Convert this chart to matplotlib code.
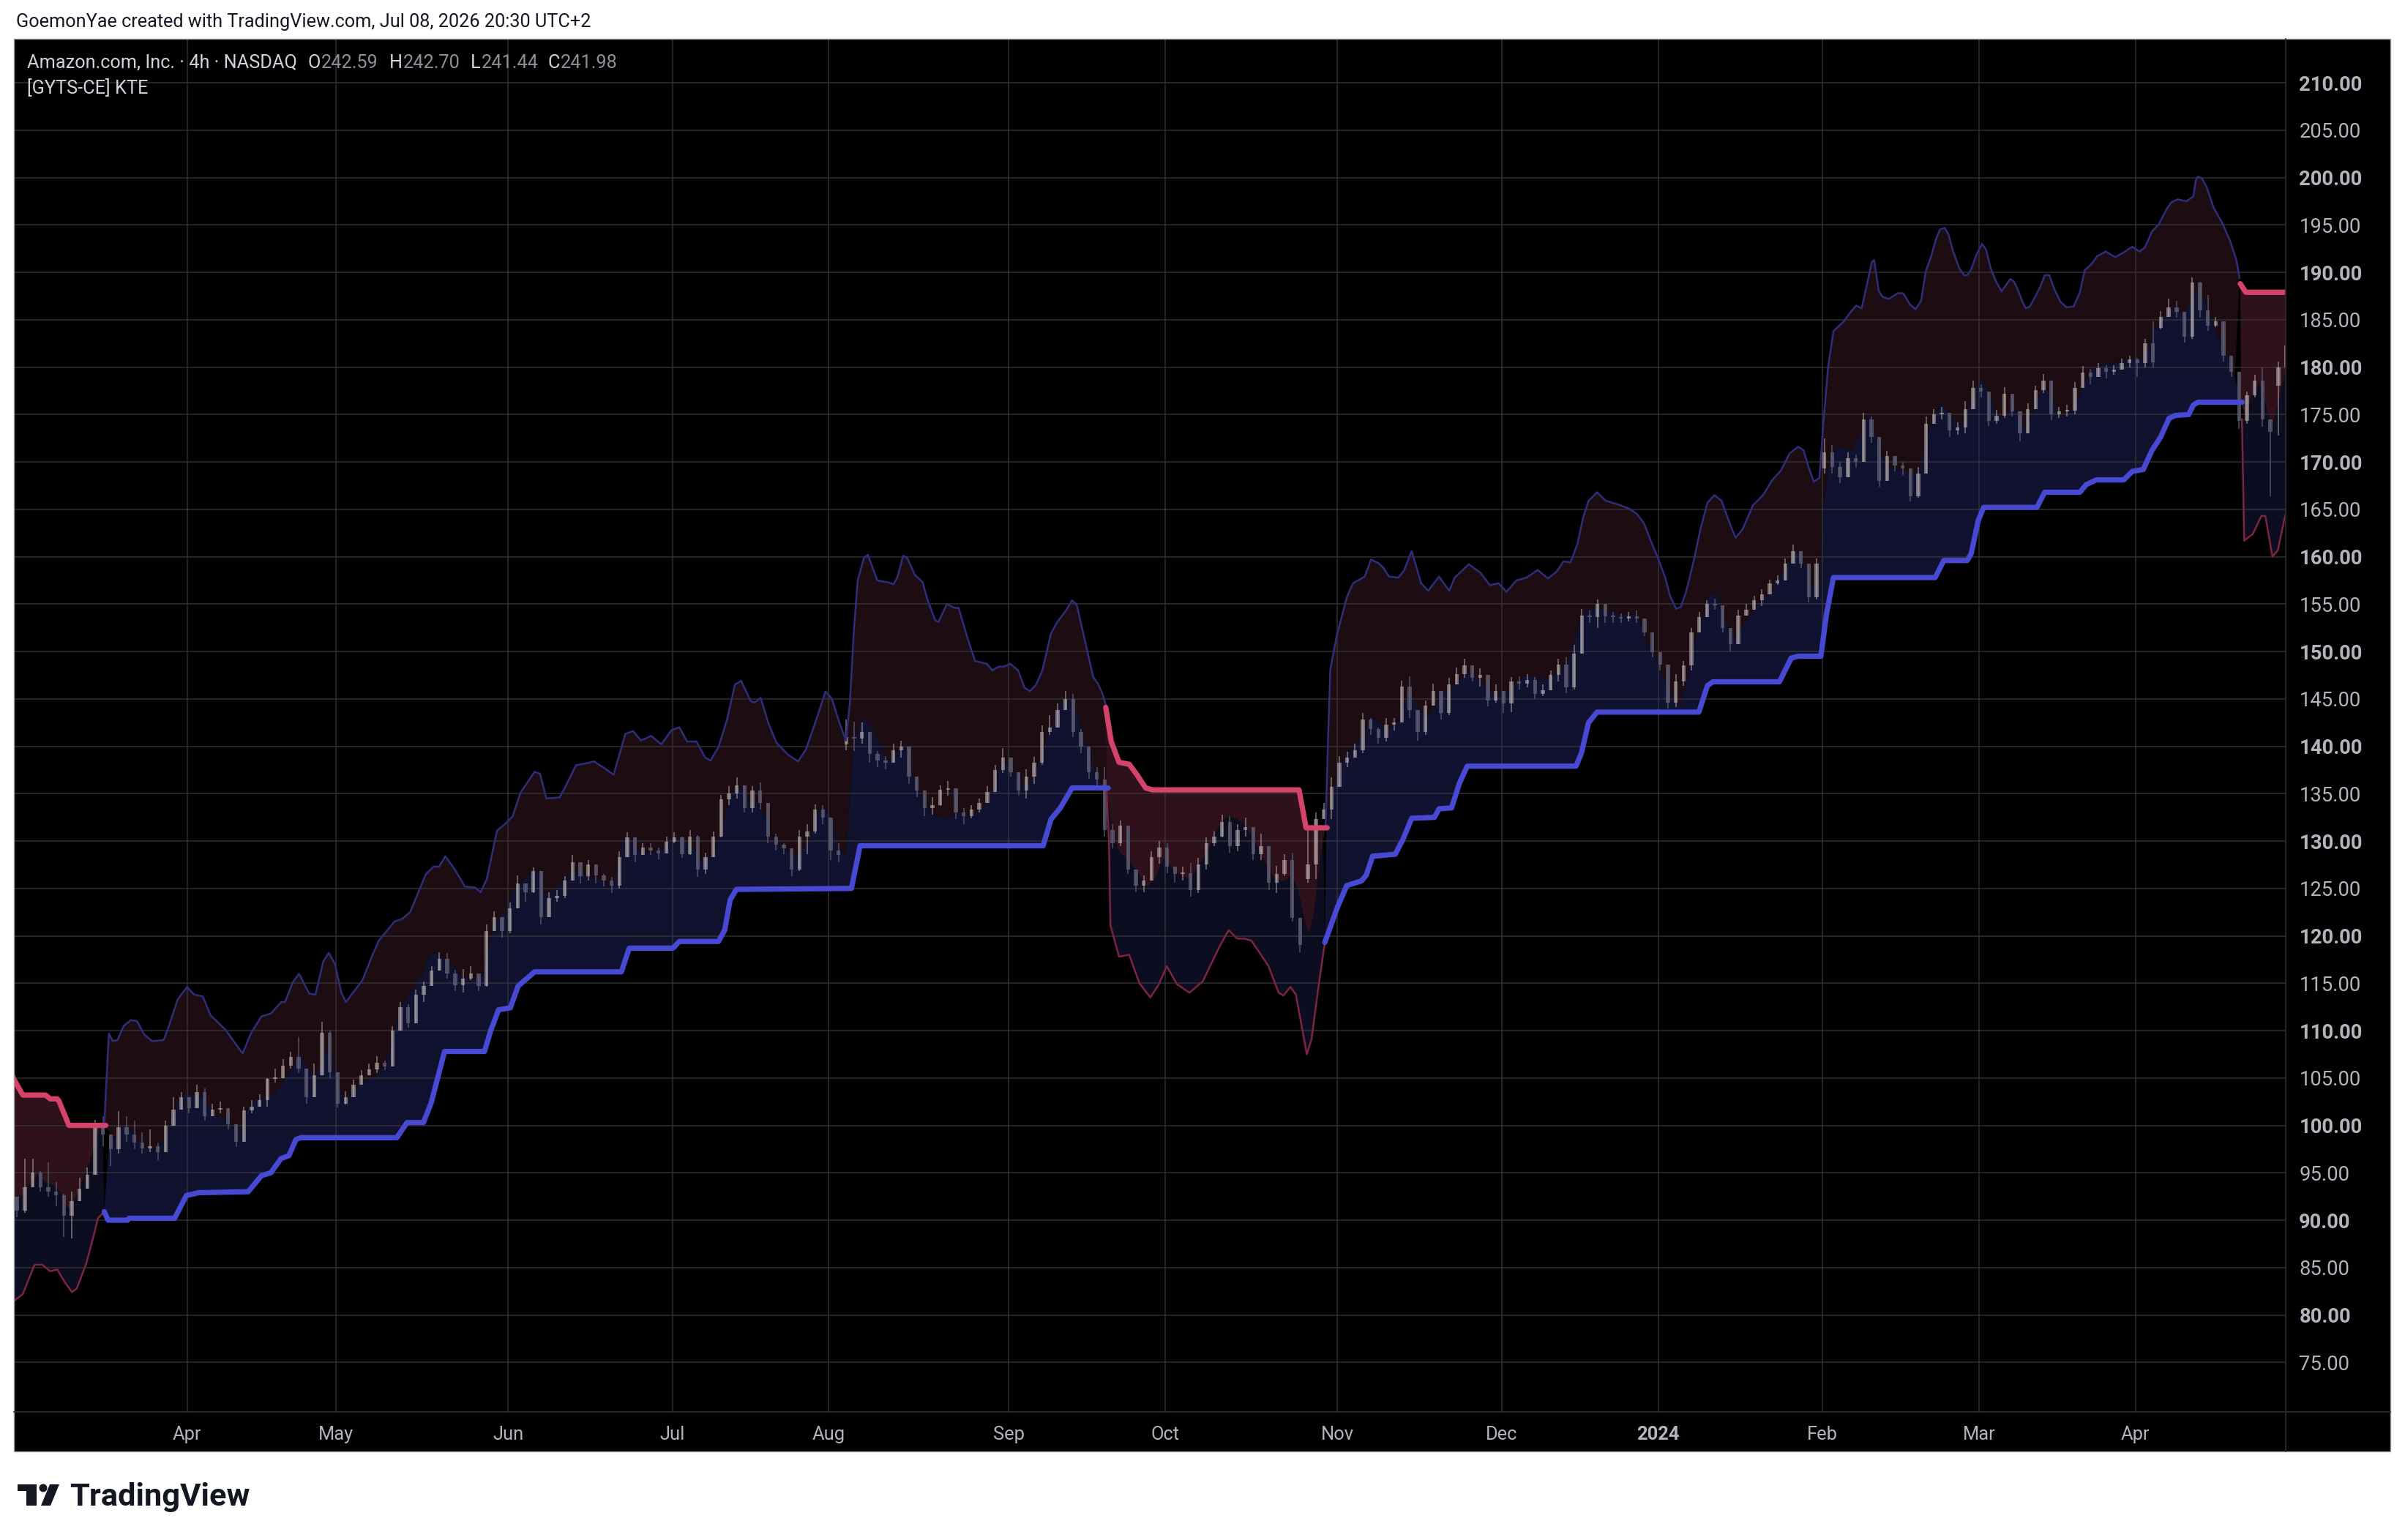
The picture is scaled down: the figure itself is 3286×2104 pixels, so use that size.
import numpy as np
import pandas as pd
import matplotlib
matplotlib.use('Agg')
import matplotlib.pyplot as plt
from matplotlib.patches import Rectangle, Polygon, Circle

plt.rcParams['font.family'] = ['Roboto', 'DejaVu Sans']

# ---------------- data: x = trading-day index, 0 = 2023-03-01 ----------------
HOLIDAYS = ['2023-04-07', '2023-05-29', '2023-06-19', '2023-07-04', '2023-09-04',
            '2023-11-23', '2023-12-25', '2024-01-01', '2024-01-15', '2024-02-19',
            '2024-03-29']

CLOSE = [92.5, 91.0, 93.5, 95.0, 93.5, 93.0, 92.6, 90.5, 92.0, 93.3,
         94.8, 99.8, 99.0, 97.5, 99.8, 99.0, 98.2, 97.6, 97.8, 97.2,
         100.0, 101.7, 103.0, 101.8, 103.5, 101.0, 101.7, 101.8, 100.1, 98.3,
         101.6, 102.0, 102.7, 104.9, 105.0, 106.3, 107.2, 106.0, 103.0, 105.3,
         109.8, 105.6, 102.3, 103.0, 104.3, 105.3, 105.9, 106.6, 106.2, 110.0,
         112.5, 110.8, 113.8, 114.7, 116.3, 117.6, 116.0, 114.8, 115.5, 116.0,
         114.7, 120.5, 122.0, 120.5, 122.9, 125.5, 124.6, 126.8, 122.0, 124.0,
         124.2, 125.8, 127.8, 126.3, 127.5, 126.4, 125.8, 125.3, 128.3, 130.4,
         128.5, 129.3, 129.0, 128.7, 129.9, 130.4, 128.6, 130.5, 127.0, 128.3,
         130.5, 134.4, 135.0, 135.9, 133.5, 135.3, 134.0, 130.5, 129.6, 129.2,
         127.0, 130.5, 131.0, 133.3, 132.5, 129.0, 128.5, 141.0, 140.8, 141.5,
         139.2, 138.5, 138.3, 139.6, 140.0, 136.8, 135.3, 133.5, 133.8, 135.4,
         135.6, 133.0, 132.6, 133.3, 134.0, 135.2, 137.5, 138.8, 137.3, 135.3,
         136.8, 138.3, 141.5, 142.0, 143.8, 145.0, 141.5, 140.0, 137.3, 136.5,
         131.2, 129.8, 131.6, 127.0, 125.3, 125.8, 128.3, 129.3, 127.3, 126.5,
         126.6, 124.8, 127.5, 129.8, 130.5, 132.0, 129.5, 131.2, 131.5, 128.6,
         129.5, 125.6, 126.5, 128.0, 121.9, 119.0, 127.5, 132.3, 133.3, 135.7,
         138.3, 138.8, 139.6, 142.8, 141.8, 140.9, 142.3, 142.5, 146.3, 143.8,
         141.5, 144.3, 145.8, 143.5, 146.5, 147.6, 148.5, 147.2, 147.5, 144.8,
         145.8, 144.5, 146.8, 146.6, 147.0, 145.5, 145.9, 147.5, 148.6, 146.2,
         149.8, 153.8, 153.6, 155.0, 153.7, 153.6, 153.5, 153.7, 153.5, 152.0,
         149.9, 148.6, 144.6, 146.8, 148.5, 152.0, 153.6, 155.0, 154.9, 152.5,
         150.8, 153.8, 154.4, 155.4, 156.0, 157.2, 157.5, 159.3, 160.6, 159.3,
         155.7, 159.3, 171.0, 169.5, 168.4, 170.4, 170.0, 174.5, 172.6, 168.0,
         170.6, 169.6, 169.3, 166.4, 168.8, 174.0, 175.0, 175.2, 173.3, 173.6,
         175.6, 177.8, 177.4, 174.3, 174.9, 177.2, 175.3, 173.0, 175.6, 177.6,
         178.6, 175.0, 175.3, 175.4, 177.8, 179.4, 179.0, 179.9, 179.5, 179.7,
         180.4, 180.8, 180.4, 182.5, 180.5, 185.3, 186.3, 185.8, 183.2, 188.9,
         186.0, 184.4, 184.8, 181.2, 179.5, 174.3, 177.0, 178.6, 174.5, 173.2,
         180.0, 182.3]

HIGH = [94.5, 92.5, 96.5, 96.5, 95.2, 96.1, 94.0, 92.8, 93.0, 94.5,
        95.6, 100.6, 101.0, 98.8, 101.5, 101.0, 100.5, 99.3, 99.6, 98.2,
        100.5, 103.0, 103.5, 102.6, 104.3, 103.9, 102.3, 102.5, 100.9, 99.6,
        102.0, 102.7, 103.3, 105.0, 106.0, 107.0, 107.8, 109.3, 104.5, 106.5,
        110.9, 110.0, 105.1, 103.6, 104.8, 105.8, 106.5, 107.3, 106.8, 110.5,
        113.0, 112.8, 114.3, 115.2, 116.8, 118.3, 118.2, 116.4, 116.5, 116.8,
        115.5, 121.2, 122.6, 121.6, 123.5, 126.4, 125.3, 127.2, 124.5, 124.6,
        124.8, 126.3, 128.5, 127.5, 128.0, 127.5, 126.5, 126.2, 128.9, 130.9,
        130.0, 129.8, 129.8, 129.3, 130.5, 130.9, 130.5, 131.2, 130.6, 128.8,
        131.0, 134.9, 135.8, 136.7, 135.7, 135.8, 136.2, 134.0, 130.8, 129.8,
        129.0, 131.2, 131.8, 133.9, 133.8, 132.4, 129.8, 142.8, 142.6, 142.5,
        141.5, 139.5, 139.0, 140.3, 140.6, 139.0, 136.6, 135.0, 134.6, 135.9,
        136.3, 135.2, 133.5, 133.8, 134.5, 135.8, 138.0, 139.8, 138.4, 137.0,
        137.6, 138.9, 142.2, 143.3, 144.5, 145.8, 145.5, 141.8, 140.0, 137.8,
        137.8, 131.8, 132.2, 130.2, 126.8, 126.4, 128.9, 130.0, 129.8, 127.3,
        127.3, 127.7, 128.2, 130.4, 131.0, 132.8, 132.6, 131.8, 132.5, 131.0,
        130.8, 128.3, 127.4, 128.6, 128.8, 121.8, 131.2, 133.0, 134.0, 136.7,
        139.0, 139.4, 140.3, 143.5, 143.0, 142.0, 143.0, 143.0, 146.9, 147.4,
        143.8, 144.8, 146.6, 145.8, 147.2, 148.3, 149.2, 148.0, 148.2, 146.4,
        146.5, 145.5, 147.3, 147.4, 147.6, 147.3, 146.5, 148.0, 149.2, 149.4,
        150.7, 154.5, 154.3, 155.5, 154.5, 154.2, 154.0, 154.2, 154.3, 153.4,
        151.8, 149.8, 146.0, 147.6, 149.0, 152.5, 154.2, 155.4, 155.6, 154.2,
        152.0, 154.4, 155.0, 155.9, 156.6, 157.6, 158.0, 159.8, 161.3, 160.5,
        157.3, 159.8, 172.5, 171.8, 170.0, 171.0, 170.8, 175.2, 174.8, 169.6,
        171.2, 170.5, 170.0, 168.2, 169.5, 174.8, 175.6, 175.8, 174.3, 174.2,
        176.4, 178.6, 178.2, 177.0, 175.5, 177.9, 177.0, 175.0, 176.2, 178.0,
        179.3, 176.8, 175.8, 176.0, 178.4, 180.1, 179.8, 180.4, 180.2, 180.2,
        180.9, 181.2, 181.0, 183.0, 184.8, 185.9, 187.2, 187.0, 185.8, 189.5,
        189.0, 187.6, 185.3, 184.5, 181.0, 178.9, 177.4, 179.2, 180.0, 174.0,
        180.6, 183.5]

LOW = [91.0, 90.3, 90.8, 93.8, 93.0, 92.5, 91.5, 88.2, 88.1, 92.3,
       93.3, 95.5, 97.8, 95.7, 97.0, 98.3, 97.5, 97.0, 97.2, 96.3,
       98.3, 101.0, 102.0, 101.3, 102.5, 100.5, 101.0, 101.3, 99.6, 97.7,
       98.8, 101.3, 102.3, 102.0, 104.5, 105.0, 106.0, 105.5, 102.3, 104.5,
       105.5, 105.0, 101.9, 102.2, 103.4, 104.5, 105.3, 105.5, 105.8, 107.8,
       110.0, 110.3, 110.8, 113.0, 115.0, 116.3, 115.5, 114.2, 114.0, 115.3,
       114.2, 114.6, 120.5, 119.8, 120.3, 123.3, 123.6, 124.5, 121.2, 122.0,
       123.6, 124.0, 125.8, 125.5, 125.8, 125.5, 125.2, 124.5, 125.0, 128.6,
       127.8, 128.7, 128.5, 128.1, 129.0, 129.8, 128.2, 128.5, 126.2, 126.5,
       128.3, 130.4, 133.8, 134.5, 133.0, 133.0, 133.3, 129.8, 129.0, 128.6,
       126.3, 126.8, 128.6, 130.8, 131.8, 128.0, 127.8, 139.6, 139.5, 140.3,
       138.3, 137.8, 137.6, 138.5, 138.8, 136.0, 134.6, 132.6, 132.8, 133.7,
       134.8, 132.3, 131.8, 132.4, 133.0, 134.0, 135.3, 137.2, 136.8, 134.8,
       134.5, 136.0, 138.0, 141.2, 142.2, 144.2, 141.0, 139.3, 136.6, 135.6,
       130.5, 129.2, 129.5, 126.5, 124.6, 124.6, 126.0, 127.6, 126.6, 125.6,
       125.8, 124.1, 124.5, 127.0, 129.5, 130.4, 128.8, 128.9, 130.5, 128.0,
       128.0, 124.8, 124.5, 126.3, 121.5, 118.3, 125.6, 126.0, 132.5, 132.3,
       136.0, 137.8, 138.8, 139.3, 141.2, 140.3, 140.5, 141.7, 142.5, 143.0,
       140.6, 141.2, 145.0, 142.8, 143.3, 146.6, 147.2, 146.8, 146.3, 144.2,
       144.6, 143.5, 143.6, 146.0, 146.2, 145.0, 145.3, 146.6, 146.8, 145.6,
       146.0, 150.1, 153.0, 152.5, 153.0, 153.0, 153.0, 153.2, 153.0, 151.6,
       149.4, 148.0, 144.0, 144.1, 146.4, 148.0, 153.0, 154.4, 154.4, 152.0,
       150.0, 151.8, 153.9, 154.8, 154.8, 156.4, 157.0, 157.6, 159.6, 158.8,
       155.2, 155.5, 168.8, 168.8, 167.8, 169.6, 169.4, 170.5, 172.0, 167.4,
       168.0, 169.0, 168.6, 165.8, 166.2, 168.8, 174.2, 174.5, 172.6, 172.9,
       173.0, 176.3, 176.8, 173.8, 174.0, 174.6, 174.8, 172.2, 174.5, 175.8,
       177.3, 174.4, 174.6, 174.8, 175.0, 178.6, 178.2, 179.2, 178.8, 179.2,
       179.9, 180.0, 179.0, 180.0, 180.0, 184.0, 185.3, 185.2, 182.6, 183.0,
       185.2, 183.8, 184.2, 180.6, 179.0, 173.5, 174.0, 176.8, 173.7, 166.4,
       172.8, 180.5]

FIRST_OPEN = 92.0
GAP_OPEN = {107: 140.2, 166: 126.0, 232: 169.3, 275: 184.1, 290: 178.0}

# smoothed centre line of the indicator (boundary between the two fills)
MID = [(0, 90.5), (0.9, 91.6), (2.2, 93.0), (3.3, 94.2), (3.9, 94.8), (4.9, 94.0), (6.0, 93.6),
       (6.8, 93.0), (7.4, 91.5), (8.1, 91.2), (8.7, 92.3), (9.5, 93.9), (10.4, 95.7), (11.2, 98.0),
       (11.8, 99.6), (12.2, 100.1), (13.1, 99.2), (13.7, 98.5), (14.3, 99.4), (15.2, 100.1),
       (16.2, 99.2), (17.0, 98.0), (18.3, 97.5), (19.3, 97.4), (20.0, 98.4), (20.8, 100.3),
       (21.8, 102.5), (22.9, 103.4), (24.2, 103.2), (25.2, 102.8), (26.6, 101.1), (27.9, 100.6),
       (29.1, 99.6), (30.0, 99.9), (30.8, 101.9), (31.8, 102.9), (32.9, 102.7), (34.2, 103.4),
       (35.4, 104.7), (36.7, 106.5), (37.5, 107.3), (38.3, 106.5), (39.2, 105.0), (40.0, 106.3),
       (40.8, 108.1), (41.7, 106.5), (42.5, 103.9), (43.1, 102.6), (43.8, 103.1), (44.6, 104.1),
       (45.9, 104.7), (47.1, 105.2), (48.2, 106.2), (49.2, 108.6), (50.0, 111.9), (51.3, 113.7),
       (53.0, 115.8), (54.2, 118.3), (55.2, 118.0), (56.7, 117.1), (58.2, 115.6), (59.8, 115.4),
       (60.8, 115.8), (61.5, 118.9), (62.3, 121.5), (63.6, 122.4), (64.8, 124.9), (66.3, 126.2),
       (67.6, 127.1), (68.9, 124.2), (69.9, 124.9), (71.4, 126.2), (72.7, 126.9), (74.0, 126.4),
       (75.5, 126.0), (77.0, 125.3), (77.8, 126.0), (78.5, 129.5), (79.5, 130.4), (80.6, 129.1),
       (81.6, 128.8), (83.1, 128.8), (84.6, 130.0), (85.9, 130.4), (87.4, 129.5), (88.7, 128.0),
       (90.2, 128.6), (90.9, 130.0), (91.7, 132.6), (92.7, 135.3), (93.7, 135.7), (94.8, 134.2),
       (95.8, 134.0), (96.8, 132.6), (97.8, 130.0), (99.3, 129.1), (100.8, 128.4), (102.4, 130.0),
       (103.6, 133.1), (104.6, 133.5), (105.4, 132.2), (106.2, 129.5), (107.2, 128.4), (107.7, 134.9),
       (108.2, 140.2), (109.0, 142.4), (109.5, 143.1), (110.5, 142.0), (111.5, 140.2), (112.5, 138.4),
       (113.5, 139.3), (114.5, 140.2), (115.3, 138.4), (116.3, 135.7), (117.6, 133.5), (118.6, 132.6),
       (120.1, 132.4), (121.6, 133.0), (123.1, 132.6), (124.7, 133.5), (125.9, 134.9), (127.2, 138.4),
       (128.2, 137.9), (129.2, 136.6), (130.2, 135.5), (131.3, 137.1), (132.5, 140.0), (133.8, 143.0),
       (134.8, 144.85), (135.9, 145.2), (136.7, 143.7), (137.5, 141.2), (138.4, 139.0), (139.2, 137.1),
       (140.0, 135.7), (140.5, 135.4), (141.3, 130.5), (142.2, 128.8), (143.4, 127.8), (144.7, 126.4),
       (145.7, 125.1), (146.8, 126.1), (147.8, 128.1), (148.9, 127.1), (150.1, 126.2), (151.3, 126.1),
       (152.6, 127.8), (153.9, 129.8), (155.1, 131.9), (156.1, 132.6), (157.2, 132.3), (158.2, 131.6),
       (159.3, 130.2), (160.5, 128.1), (161.8, 126.2), (163.0, 125.7), (164.1, 126.3), (164.9, 125.1),
       (165.8, 121.6), (166.4, 120.2), (167.0, 122.3), (167.6, 126.4), (168.2, 130.2), (168.6, 131.6),
       (169.7, 136.4), (170.7, 138.5), (171.8, 139.9), (173.1, 140.9), (174.3, 143.0), (175.3, 142.6),
       (176.4, 141.7), (177.7, 142.6), (178.7, 145.0), (179.5, 145.4), (180.4, 144.0), (181.2, 143.0),
       (182.2, 143.8), (183.3, 145.5), (184.3, 146.1), (185.4, 146.8), (186.4, 147.8), (187.7, 147.4),
       (188.9, 146.4), (190.2, 145.4), (191.4, 145.7), (192.7, 146.5), (193.9, 147.5), (195.8, 147.2),
       (197.1, 147.0), (198.5, 148.0), (199.6, 149.2), (200.5, 151.9), (201.2, 153.9), (202.5, 154.7),
       (203.8, 154.5), (205.2, 154.1), (206.5, 153.9), (207.9, 153.9), (208.8, 152.9), (209.7, 150.7),
       (210.6, 149.3), (211.5, 147.6), (212.4, 146.0), (213.0, 144.8), (213.7, 144.4), (214.6, 146.7),
       (215.5, 150.7), (216.4, 152.9), (217.3, 155.5), (218.2, 156.3), (219.1, 155.0), (220.0, 152.3),
       (220.9, 151.5), (221.8, 152.7), (222.9, 154.1), (224.2, 155.5), (225.6, 156.6), (226.9, 158.2),
       (228.0, 159.8), (228.9, 160.6), (229.8, 159.0), (230.7, 157.0), (231.6, 157.4), (232.0, 164.1),
       (232.7, 169.2), (233.6, 171.6), (234.7, 171.4), (235.8, 171.2), (237.0, 173.2), (237.9, 175.2),
       (238.5, 174.0), (239.2, 171.6), (240.1, 169.6), (241.2, 169.2), (242.3, 169.2), (243.5, 168.5),
       (244.6, 169.7), (245.5, 173.2), (246.4, 175.2), (247.3, 176.1), (248.2, 175.3), (248.8, 174.5),
       (249.6, 173.8), (250.4, 174.9), (251.4, 177.3), (252.4, 178.7), (253.2, 177.6), (254.0, 175.5),
       (254.8, 174.7), (255.6, 175.2), (256.3, 176.2), (257.1, 174.8), (257.9, 173.5), (258.7, 174.8),
       (259.4, 176.6), (260.4, 178.0), (261.2, 177.0), (262.0, 175.35), (262.7, 174.8), (263.5, 175.2),
       (264.4, 175.9), (265.4, 178.3), (266.3, 179.65), (267.6, 180.3), (268.8, 180.4), (270.1, 180.5),
       (271.3, 180.9), (272.5, 180.7), (273.5, 181.7), (274.4, 183.8), (275.3, 185.2), (276.3, 186.1),
       (277.2, 186.3), (278.1, 185.5), (279.1, 187.1), (280.0, 188.3), (280.9, 186.9), (281.9, 184.5),
       (282.8, 182.8), (283.8, 181.0), (284.7, 179.0), (285.5, 176.2), (286.1, 174.8), (286.9, 176.9),
       (287.7, 178.3), (288.3, 177.3), (288.9, 175.2), (289.5, 173.8), (290.3, 176.2), (291.1, 179.3),
       (292.0, 181.5)]

# trailing stop, one list per regime
STOP_D1 = [(0, 106.5), (0.9, 104.8), (2.0, 103.2), (4.9, 103.2), (5.5, 102.8), (6.4, 102.8),
           (6.6, 102.6), (7.9, 100.0), (12.6, 100.0)]
STOP_U1 = [(12.4, 90.9), (12.9, 90.0), (15.4, 90.0), (15.6, 90.2), (21.4, 90.2), (22.9, 92.6),
           (24.5, 92.9), (30.8, 93.0), (32.5, 94.7), (33.7, 95.0), (35.0, 96.5), (36.0, 96.8),
           (36.9, 98.5), (37.5, 98.7), (49.8, 98.7), (51.1, 100.3), (53.2, 100.3), (54.2, 102.4),
           (55.9, 107.8), (61.0, 107.8), (61.8, 110.0), (62.8, 112.2), (64.3, 112.4), (65.3, 114.7),
           (67.4, 116.2), (78.5, 116.2), (79.5, 118.7), (85.1, 118.7), (85.9, 119.4), (90.9, 119.4),
           (91.7, 120.6), (92.4, 123.8), (93.2, 124.9), (107.9, 125.0), (109.0, 129.5), (132.4, 129.5),
           (133.4, 132.3), (134.6, 133.5), (136.1, 135.6), (140.7, 135.6)]
STOP_D2 = [(140.4, 144.1), (141.1, 140.5), (142.1, 138.3), (143.4, 138.1), (144.3, 137.1),
           (145.5, 135.6), (146.4, 135.4), (165.1, 135.4), (166.0, 131.4), (168.7, 131.4)]
STOP_U2 = [(168.4, 119.3), (170.0, 123.0), (171.2, 125.3), (173.1, 125.8), (173.7, 126.4),
           (174.5, 128.4), (177.4, 128.6), (178.4, 130.2), (179.5, 132.4), (182.4, 132.5),
           (183.0, 133.4), (184.6, 133.5), (185.6, 136.1), (186.6, 137.9), (200.5, 137.9),
           (201.2, 139.3), (202.1, 142.5), (203.2, 143.6), (216.2, 143.6), (217.3, 146.4),
           (218.0, 146.8), (226.5, 146.8), (228.0, 149.3), (228.9, 149.5), (231.8, 149.5),
           (232.5, 153.9), (233.4, 157.8), (246.4, 157.8), (247.5, 159.6), (250.5, 159.6),
           (251.0, 160.3), (251.9, 163.8), (252.6, 165.2), (259.4, 165.2), (260.4, 166.8),
           (264.9, 166.8), (265.7, 167.6), (267.0, 168.1), (270.5, 168.1), (271.6, 169.0),
           (273.0, 169.2), (274.1, 171.2), (275.2, 172.6), (276.3, 174.6), (277.1, 174.9),
           (278.8, 175.0), (279.4, 176.0), (280.0, 176.3), (285.6, 176.3)]
STOP_D3 = [(285.4, 188.8), (286.1, 187.9), (292.0, 187.9)]

# outer band: upper one in up-trends, lower one in down-trends
UPPER_U1 = [(12.4, 100.0), (13.0, 109.7), (13.5, 108.9), (14.1, 109.0), (14.9, 110.5), (15.8, 111.1),
            (16.6, 111.0), (17.5, 109.6), (18.5, 108.9), (20.0, 109.0), (20.8, 110.8), (21.8, 113.3),
            (23.0, 114.6), (23.9, 113.8), (25.0, 113.6), (26.0, 111.6), (27.9, 110.1), (29.8, 107.9),
            (30.1, 107.6), (31.2, 109.8), (32.5, 111.5), (33.7, 111.8), (35.0, 113.0), (35.5, 113.0),
            (36.5, 115.1), (37.3, 116.0), (38.1, 114.7), (38.6, 113.9), (39.4, 113.8), (40.4, 117.3),
            (41.1, 118.2), (41.9, 117.0), (42.7, 114.0), (43.3, 113.0), (44.2, 114.0), (45.4, 115.3),
            (46.7, 118.0), (47.5, 119.5), (48.5, 120.5), (49.5, 121.5), (50.5, 121.8), (51.5, 122.5),
            (52.5, 124.5), (53.5, 126.5), (54.5, 127.3), (55.2, 127.3), (56.0, 128.4), (57.2, 127.0),
            (58.5, 125.2), (59.8, 125.1), (60.5, 124.6), (61.3, 126.0), (62.6, 131.1), (63.5, 131.7),
            (64.6, 132.6), (65.6, 135.1), (67.4, 137.3), (68.1, 137.1), (68.9, 134.5), (70.6, 134.6),
            (71.2, 135.5), (72.7, 138.0), (74.0, 138.2), (75.0, 138.4), (76.3, 137.7), (77.5, 137.0),
            (79.0, 141.3), (80.0, 141.6), (81.0, 140.6), (82.3, 141.1), (83.6, 140.2), (84.9, 141.7),
            (85.9, 142.0), (86.9, 140.5), (88.1, 140.5), (89.2, 138.8), (89.9, 138.5), (90.9, 139.9),
            (92.0, 142.8), (93.0, 146.5), (93.8, 146.9), (95.0, 144.8), (95.5, 144.6), (96.3, 145.1),
            (97.3, 142.4), (98.3, 140.4), (99.8, 139.1), (101.1, 138.4), (102.1, 139.7), (103.4, 142.8),
            (104.6, 145.8), (105.4, 145.0), (106.4, 142.4), (107.2, 140.6), (107.7, 144.6), (108.2, 152.1),
            (108.7, 157.5), (109.5, 159.9), (110.0, 160.2), (111.2, 157.5), (112.5, 157.3), (113.3, 157.1),
            (113.8, 157.9), (114.5, 160.1), (115.0, 159.9), (116.0, 158.1), (117.0, 157.3), (117.6, 155.5),
            (118.6, 153.3), (119.0, 153.1), (120.1, 155.0), (121.1, 154.6), (121.6, 154.6), (122.7, 151.5),
            (123.7, 149.0), (125.2, 148.7), (125.9, 148.0), (126.7, 148.4), (127.4, 148.4), (128.2, 148.7),
            (129.2, 148.0), (130.0, 146.2), (130.7, 145.8), (131.5, 146.5), (132.3, 148.0), (133.4, 151.9),
            (134.2, 153.1), (135.3, 154.3), (136.1, 155.4), (136.7, 154.9), (137.8, 150.9), (138.8, 147.3),
            (139.4, 146.6), (140.0, 145.5), (140.5, 144.1)]
UPPER_U2 = [(168.5, 131.6), (168.8, 140.5), (169.1, 148.1), (169.9, 151.6), (171.2, 155.7), (172.0, 157.2),
            (173.5, 157.9), (174.3, 159.7), (175.3, 159.3), (175.9, 158.8), (176.6, 157.9), (177.8, 157.8),
            (178.5, 158.5), (179.5, 160.6), (180.7, 157.2), (181.6, 156.4), (183.0, 157.9), (184.3, 156.4),
            (185.0, 157.8), (186.8, 159.2), (188.3, 158.3), (189.5, 157.0), (190.6, 157.2), (191.6, 156.3),
            (192.9, 157.5), (194.2, 157.8), (195.6, 158.6), (196.9, 157.7), (198.0, 158.4), (198.9, 159.5),
            (199.8, 159.4), (200.7, 161.4), (201.4, 164.1), (202.1, 165.9), (203.2, 166.8), (204.3, 165.9),
            (205.9, 165.5), (207.2, 165.1), (208.3, 164.5), (209.2, 163.5), (210.1, 161.6), (211.0, 159.8),
            (211.9, 157.8), (212.5, 155.9), (213.3, 154.5), (213.9, 154.7), (214.6, 156.4), (215.5, 159.4),
            (216.4, 162.9), (217.3, 165.7), (218.2, 166.5), (219.1, 165.9), (220.2, 163.4), (220.9, 162.0),
            (221.8, 162.9), (223.1, 165.4), (224.4, 166.5), (225.6, 168.1), (226.7, 169.1), (227.8, 170.9),
            (228.9, 171.6), (229.6, 171.2), (230.2, 169.5), (230.9, 167.9), (231.6, 168.3), (232.0, 172.8),
            (232.7, 179.9), (233.4, 183.8), (234.7, 184.8), (235.4, 185.6), (236.3, 186.5), (237.0, 186.2),
            (237.6, 188.4), (238.3, 191.1), (238.6, 191.3), (239.2, 188.0), (239.7, 187.4), (240.5, 187.2),
            (241.6, 187.8), (242.3, 187.8), (243.2, 186.6), (243.9, 186.1), (244.6, 187.0), (245.2, 190.1),
            (245.9, 191.7), (246.5, 193.5), (247.0, 194.5), (247.6, 194.7), (248.1, 194.0), (248.7, 192.2),
            (249.5, 190.4), (250.1, 189.7), (250.5, 189.7), (251.0, 190.3), (251.7, 191.9), (252.4, 193.0),
            (252.9, 192.4), (253.5, 190.4), (254.2, 189.0), (254.9, 188.0), (255.4, 188.6), (256.0, 189.3),
            (256.5, 189.0), (257.0, 188.1), (257.6, 186.8), (258.0, 186.2), (258.5, 186.4), (259.3, 187.6),
            (259.9, 188.6), (260.4, 189.7), (261.0, 189.7), (261.6, 188.3), (262.4, 186.9), (263.2, 186.3),
            (264.1, 186.4), (264.9, 187.9), (265.5, 190.2), (266.4, 190.9), (267.1, 191.7), (268.2, 192.2),
            (269.4, 191.6), (270.5, 192.1), (271.6, 192.7), (272.5, 192.2), (273.2, 192.6), (274.1, 194.3),
            (275.0, 195.1), (276.0, 196.7), (276.6, 197.4), (277.4, 197.7), (278.5, 197.5), (279.4, 198.0),
            (279.7, 199.7), (280.0, 200.1), (280.5, 199.9), (281.1, 199.0), (282.0, 196.8), (283.1, 195.2),
            (284.1, 193.3), (284.9, 191.3), (285.3, 189.4)]
LOWER_D1 = [(0, 81.0), (0.9, 81.5), (2.0, 82.2), (3.5, 85.3), (4.5, 85.3), (5.5, 84.6), (6.4, 84.8),
            (7.4, 83.4), (8.3, 82.4), (8.9, 82.8), (10.1, 85.4), (11.0, 88.2), (11.6, 90.2), (12.4, 90.9)]
LOWER_D2 = [(140.5, 135.4), (140.8, 130.2), (141.0, 121.1), (142.1, 117.8), (143.4, 118.0), (144.7, 115.0),
            (146.1, 113.5), (147.2, 114.9), (148.2, 116.8), (149.5, 114.9), (151.1, 114.0), (152.8, 115.2),
            (154.9, 118.8), (156.1, 120.6), (157.2, 119.7), (158.1, 119.7), (159.0, 119.5), (160.0, 118.3),
            (161.2, 116.8), (162.5, 114.0), (163.1, 113.7), (164.0, 114.6), (164.7, 113.8), (166.1, 107.5),
            (166.7, 109.1), (167.6, 114.7), (168.4, 119.3)]
LOWER_D3 = [(285.6, 174.5), (285.9, 161.7), (287.0, 162.4), (288.1, 164.3), (288.6, 164.3),
            (289.5, 160.0), (290.2, 160.7), (291.1, 164.2), (292.0, 166.5)]

REGIMES = [('down', STOP_D1, LOWER_D1), ('up', STOP_U1, UPPER_U1), ('down', STOP_D2, LOWER_D2),
           ('up', STOP_U2, UPPER_U2), ('down', STOP_D3, LOWER_D3)]

PRICE_TICKS = list(range(75, 211, 5))
OHLC_LEGEND = [(421, 'O', '242.59'), (532, 'H', '242.70'), (643, 'L', '241.44'), (748, 'C', '241.98')]

# ---------------- figure ----------------
W, H, DPI = 3286, 2104, 200
fig = plt.figure(figsize=(W / DPI, H / DPI), dpi=DPI)
fig.patch.set_facecolor('white')

# pixel geometry of the screenshot
PL, PR, PT, PB = 19, 3123, 53, 1929
FR, FB = 3266, 1983

bg = fig.add_axes([0, 0, 1, 1], zorder=-1)
bg.set_xlim(0, W); bg.set_ylim(H, 0); bg.axis('off')
bg.add_patch(Rectangle((PL, PT), FR - PL, FB - PT, facecolor='black', edgecolor='none'))

ax = fig.add_axes([PL / W, 1 - PB / H, (PR - PL) / W, (PB - PT) / H])
ax.set_facecolor('black')
for s in ax.spines.values():
    s.set_visible(False)

days = pd.bdate_range('2023-03-01', '2024-04-30')
days = days[~days.isin(pd.to_datetime(HOLIDAYS))]
month_idx, month_lab = [], []
for k in range(1, len(days)):
    if days[k].month != days[k - 1].month:
        month_idx.append(k)
        month_lab.append('2024' if days[k].month == 1 else days[k].strftime('%b'))

ax.set_xlim(0.86, 291.2)
ax.set_ylim(69.77, 214.64)

GRID = (0.23, 0.23, 0.25)
for p in PRICE_TICKS:
    ax.axhline(p, color=GRID, lw=0.55, alpha=0.8, zorder=1.5)
for m in month_idx:
    ax.axvline(m, color=GRID, lw=0.55, alpha=0.8, zorder=1.5)


def pts(seq):
    a = np.array(seq, dtype=float)
    return a[:, 0], a[:, 1]


mx, my = pts(MID)


def mid_between(a, b):
    sel = (mx >= a - 1e-6) & (mx <= b + 1e-6)
    return mx[sel], my[sel]


COL = {'up_red': '#1d0c11', 'up_blue': '#11122f', 'dn_red': '#2f111c', 'dn_blue': '#0d0d21',
       'stop_up': '#4749d3', 'stop_dn': '#d5436a', 'band_up': '#2e2e7c', 'band_dn': '#7d2444'}

for kind, stop, band in REGIMES:
    sx, sy = pts(stop)
    bx, by = pts(band)
    if kind == 'up':
        m1x, m1y = mid_between(bx[0], bx[-1])
        ax.fill(np.r_[bx, m1x[::-1]], np.r_[by, m1y[::-1]], color=COL['up_red'], lw=0, zorder=1)
        m2x, m2y = mid_between(sx[0], sx[-1])
        ax.fill(np.r_[m2x, sx[::-1]], np.r_[m2y, sy[::-1]], color=COL['up_blue'], lw=0, zorder=1)
        ax.plot(bx, by, color=COL['band_up'], lw=0.9, zorder=3)
        ax.plot(sx, sy, color=COL['stop_up'], lw=2.6, solid_capstyle='round', zorder=4)
    else:
        m1x, m1y = mid_between(sx[0], sx[-1])
        ax.fill(np.r_[sx, m1x[::-1]], np.r_[sy, m1y[::-1]], color=COL['dn_red'], lw=0, zorder=1)
        m2x, m2y = mid_between(bx[0], bx[-1])
        ax.fill(np.r_[m2x, bx[::-1]], np.r_[m2y, by[::-1]], color=COL['dn_blue'], lw=0, zorder=1)
        ax.plot(bx, by, color=COL['band_dn'], lw=0.9, zorder=3)
        ax.plot(sx, sy, color=COL['stop_dn'], lw=2.6, solid_capstyle='round', zorder=4)

# candles
close = np.array(CLOSE)
open_ = np.r_[FIRST_OPEN, close[:-1]]
for k, v in GAP_OPEN.items():
    open_[k] = v
high = np.maximum(np.array(HIGH), np.maximum(open_, close))
low = np.minimum(np.array(LOW), np.minimum(open_, close))
cx = np.arange(len(close)) + 0.25
up = close >= open_
dn = ~up
UPC, DNC = '#c4bcbc', '#5c5c72'
ax.vlines(cx[up], low[up], high[up], color=UPC, lw=0.6, alpha=0.55, zorder=2)
ax.vlines(cx[dn], low[dn], high[dn], color=DNC, lw=0.6, alpha=0.8, zorder=2)
ax.bar(cx[up], np.maximum(close - open_, 0.15)[up], bottom=open_[up], width=0.5,
       color=UPC, alpha=0.55, lw=0, zorder=2)
ax.bar(cx[dn], np.maximum(open_ - close, 0.15)[dn], bottom=close[dn], width=0.5,
       color=DNC, alpha=0.8, lw=0, zorder=2)

# axes labels
LBL = '#b2b5be'
ax.yaxis.set_ticks_position('right')
ax.set_yticks(PRICE_TICKS)
ax.set_yticklabels([f'{p:.2f}' for p in PRICE_TICKS])
ax.tick_params(axis='y', length=0, pad=6.6, labelsize=9.9, labelcolor=LBL)
for lab, p in zip(ax.get_yticklabels(), PRICE_TICKS):
    if p % 10 == 0:
        lab.set_fontweight('bold')
ax.set_xticks(month_idx)
ax.set_xticklabels(month_lab)
ax.tick_params(axis='x', length=0, pad=7.0, labelsize=9.2, labelcolor=LBL)
for lab in ax.get_xticklabels():
    if lab.get_text() == '2024':
        lab.set_fontweight('bold')

# overlay: frame, separators, texts, logo
fg = fig.add_axes([0, 0, 1, 1], zorder=10)
fg.set_xlim(0, W); fg.set_ylim(H, 0); fg.axis('off')
fg.patch.set_alpha(0)
fg.plot([PR, PR], [PT, FB], color='#2e2e2e', lw=0.6)
fg.plot([PL, FR], [PB, PB], color='#2e2e2e', lw=0.6)
fg.add_patch(Rectangle((PL, PT), FR - PL, FB - PT, facecolor='none', edgecolor='#a0a0a0', lw=0.5))

FS = 9.1
fg.text(22, 30, 'GoemonYae created with TradingView.com, Jul 08, 2026 20:30 UTC+2',
        color='#131722', fontsize=FS, va='center', ha='left')
fg.text(37, 86, 'Amazon.com, Inc. \u00b7 4h \u00b7 NASDAQ', color='#d1d4dc', fontsize=FS,
        va='center', ha='left')
fg.text(37, 120, '[GYTS-CE] KTE', color='#d1d4dc', fontsize=FS, va='center', ha='left')

renderer = fig.canvas.get_renderer()
to_px = fg.transData.inverted()
for lx, letter, val in OHLC_LEGEND:
    t = fg.text(lx, 86, letter, color='#d1d4dc', fontsize=FS, va='center', ha='left')
    bb = t.get_window_extent(renderer=renderer)
    right_px = to_px.transform((bb.x1, bb.y0))[0]
    fg.text(right_px + 1, 86, val, color='#8e919a', fontsize=FS, va='center', ha='left')

# TradingView logo
fg.add_patch(Rectangle((24, 2028), 26, 9, facecolor='#131722', lw=0))
fg.add_patch(Rectangle((36, 2028), 14, 29, facecolor='#131722', lw=0))
fg.add_patch(Circle((59, 2033), 5.5, facecolor='#131722', lw=0))
fg.add_patch(Polygon([(68, 2028), (81, 2028), (69, 2057), (56, 2057)], closed=True,
                     facecolor='#131722', lw=0))
fg.text(95, 2057, 'TradingView', color='#131722', fontsize=15.6, fontweight='bold',
        va='baseline', ha='left')

fig.savefig('out.png', dpi=DPI, facecolor=fig.get_facecolor())
